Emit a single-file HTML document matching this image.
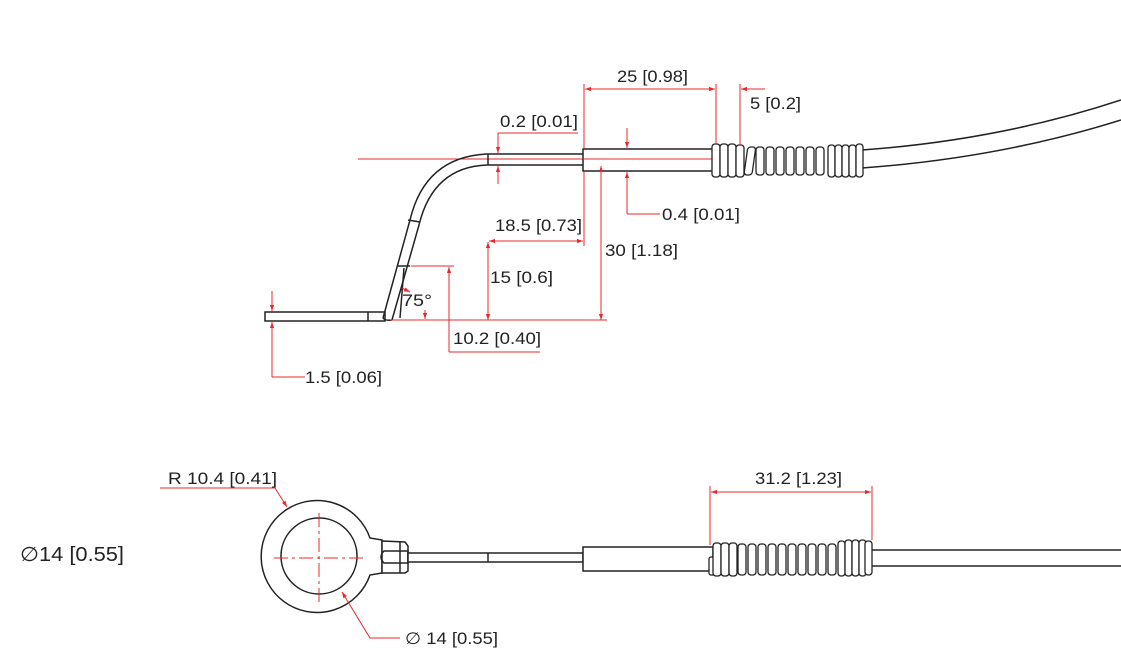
<!DOCTYPE html>
<html><head><meta charset="utf-8"><style>
html,body{margin:0;padding:0;background:#fff;width:1121px;height:663px;overflow:hidden}
svg{display:block}
text{font-family:"Liberation Sans",Arial,sans-serif;font-size:16.5px;fill:#222}
.k{stroke:#222;stroke-width:1.5;fill:none}
.r{stroke:#e8282b;stroke-width:1;fill:none}
.c{stroke:#222;stroke-width:1.3;fill:#fff}
</style></head><body>
<svg width="1121" height="663" viewBox="0 0 1121 663">
<defs>
<marker id="a" viewBox="0 0 10 10" refX="10" refY="5" markerWidth="8" markerHeight="6" orient="auto-start-reverse"><path d="M0,1.5 L10,5 L0,8.5z" fill="#e8282b"/></marker>
</defs>
<!-- TOP VIEW -->
<line class="r" x1="358" y1="159" x2="715" y2="159"/>
<rect class="k" x="265" y="312" width="120" height="9" style="fill:#fff"/>
<line class="k" x1="368" y1="312" x2="368" y2="321"/>
<path class="k" d="M383,318 L410,220 Q425,157 487,154 L583,154"/>
<path class="k" d="M392,320 L419,225 Q433,167 487,165 L583,165"/>
<path class="k" d="M383,318 Q385,321 392,320"/>
<line class="k" x1="488" y1="154" x2="488" y2="165"/>
<line class="k" x1="404" y1="268" x2="400" y2="318"/>
<line class="k" x1="398" y1="266" x2="410" y2="266"/>
<line class="k" x1="408" y1="220" x2="420" y2="222"/>
<rect class="k" x="583" y="149" width="130" height="22" style="fill:#fff"/>
<line class="r" x1="583" y1="159" x2="713" y2="159"/>
<path class="k" d="M862,150 Q1000,140 1121,100"/>
<path class="k" d="M862,168 Q1000,158 1121,120"/>
<g class="c">
<rect x="712" y="144" width="8" height="33" rx="3"/><rect x="720" y="144" width="8" height="33" rx="3"/><rect x="728" y="144" width="8" height="33" rx="3"/><rect x="736" y="145" width="8" height="32" rx="3"/>
<rect x="746" y="147" width="8" height="28" rx="3" transform="skewX(-8)" transform-origin="750 160"/><rect x="756" y="147" width="8" height="28" rx="3"/><rect x="766" y="147" width="8" height="28" rx="3"/><rect x="776" y="147" width="8" height="28" rx="3"/><rect x="786" y="147" width="8" height="28" rx="3"/><rect x="796" y="147" width="8" height="28" rx="3"/><rect x="806" y="147" width="8" height="28" rx="3"/><rect x="816" y="147" width="8" height="28" rx="3"/>
<rect x="828" y="145" width="7" height="32" rx="3"/><rect x="835" y="145" width="7" height="32" rx="3"/><rect x="842" y="145" width="7" height="32" rx="3"/><rect x="849" y="145" width="7" height="32" rx="3"/><rect x="856" y="144" width="7" height="33" rx="3"/>
</g>
<!-- dims top -->
<line class="r" x1="584" y1="84" x2="584" y2="149"/>
<line class="r" x1="716" y1="84" x2="716" y2="144"/>
<line class="r" x1="585" y1="89" x2="715" y2="89" marker-start="url(#a)" marker-end="url(#a)"/>
<text x="617" y="82" textLength="71" lengthAdjust="spacingAndGlyphs">25 [0.98]</text>
<line class="r" x1="740" y1="84" x2="740" y2="145"/>
<line class="r" x1="765" y1="89" x2="741" y2="89" marker-end="url(#a)"/>
<text x="750" y="109" textLength="51" lengthAdjust="spacingAndGlyphs">5 [0.2]</text>
<text x="500" y="127" textLength="78" lengthAdjust="spacingAndGlyphs">0.2 [0.01]</text>
<line class="r" x1="498" y1="133" x2="578" y2="133"/>
<line class="r" x1="498" y1="133" x2="498" y2="153" marker-end="url(#a)"/>
<line class="r" x1="498" y1="184" x2="498" y2="166" marker-end="url(#a)"/>
<line class="r" x1="627" y1="128" x2="627" y2="148" marker-end="url(#a)"/>
<line class="r" x1="627" y1="214" x2="627" y2="172" marker-end="url(#a)"/>
<line class="r" x1="627" y1="214" x2="660" y2="214"/>
<text x="662" y="220" textLength="78" lengthAdjust="spacingAndGlyphs">0.4 [0.01]</text>
<line class="r" x1="584" y1="171" x2="584" y2="246"/>
<line class="r" x1="489" y1="241" x2="583" y2="241" marker-start="url(#a)" marker-end="url(#a)"/>
<text x="495" y="231" textLength="87" lengthAdjust="spacingAndGlyphs">18.5 [0.73]</text>
<line class="r" x1="488" y1="242" x2="488" y2="320" marker-start="url(#a)" marker-end="url(#a)"/>
<text x="490" y="283" textLength="63" lengthAdjust="spacingAndGlyphs">15 [0.6]</text>
<line class="r" x1="601" y1="166" x2="601" y2="320" marker-start="url(#a)" marker-end="url(#a)"/>
<text x="605" y="256" textLength="73" lengthAdjust="spacingAndGlyphs">30 [1.18]</text>
<line class="r" x1="390" y1="320" x2="607" y2="320"/>
<line class="r" x1="411" y1="266" x2="454" y2="266"/>
<line class="r" x1="449" y1="267" x2="449" y2="352" marker-start="url(#a)"/>
<line class="r" x1="449" y1="352" x2="540" y2="352"/>
<text x="453" y="344" textLength="88" lengthAdjust="spacingAndGlyphs">10.2 [0.40]</text>
<text x="402" y="306" textLength="30" lengthAdjust="spacingAndGlyphs">75°</text>
<line class="r" x1="425" y1="310" x2="425" y2="319" marker-end="url(#a)"/>
<line class="r" x1="402" y1="288" x2="410" y2="292" marker-end="url(#a)"/>
<line class="r" x1="272" y1="291" x2="272" y2="311" marker-end="url(#a)"/>
<line class="r" x1="272" y1="377" x2="272" y2="322" marker-end="url(#a)"/>
<line class="r" x1="272" y1="377" x2="305" y2="377"/>
<text x="305" y="383" textLength="77" lengthAdjust="spacingAndGlyphs">1.5 [0.06]</text>
<!-- BOTTOM VIEW -->
<text x="20" y="561" style="font-size:20px" textLength="104" lengthAdjust="spacingAndGlyphs">∅14 [0.55]</text>
<path class="k" d="M370,538 A56,56 0 1 0 370,575 L382,573 L382,540 Z" style="fill:#fff"/>
<circle class="k" cx="319" cy="556" r="38"/>
<line class="r" x1="274" y1="558" x2="366" y2="558" stroke-dasharray="14,4,3,4"/>
<line class="r" x1="319" y1="513" x2="319" y2="605" stroke-dasharray="14,4,3,4"/>
<path class="k" d="M382,541 L405,542 L408,546 L408,571 L405,573 L382,573 Z" style="fill:#fff"/>
<line class="k" x1="400" y1="542" x2="400" y2="573"/>
<path class="k" d="M384,551 Q378,557 384,563 L408,563 L408,551 Z"/>
<rect class="k" x="408" y="553" width="175" height="9" style="fill:#fff"/>
<line class="k" x1="488" y1="553" x2="488" y2="562"/>
<rect class="k" x="583" y="547" width="130" height="24" style="fill:#fff"/>
<line class="k" x1="872" y1="550" x2="1121" y2="550"/>
<line class="k" x1="872" y1="566" x2="1121" y2="566"/>
<g class="c">
<rect x="709" y="557" width="8" height="18" rx="2"/>
<rect x="713" y="543" width="8" height="33" rx="3"/><rect x="721" y="543" width="8" height="33" rx="3"/><rect x="729" y="543" width="8" height="33" rx="3"/>
<rect x="738" y="544" width="8" height="31" rx="3"/><rect x="748" y="544" width="8" height="31" rx="3"/><rect x="758" y="544" width="8" height="31" rx="3"/><rect x="768" y="544" width="8" height="31" rx="3"/><rect x="778" y="544" width="8" height="31" rx="3"/><rect x="788" y="544" width="8" height="31" rx="3"/><rect x="798" y="544" width="8" height="31" rx="3"/><rect x="808" y="544" width="8" height="31" rx="3"/><rect x="818" y="544" width="8" height="31" rx="3"/><rect x="828" y="544" width="8" height="31" rx="3"/>
<rect x="838" y="541" width="7" height="35" rx="3"/><rect x="845" y="540" width="7" height="36" rx="3"/><rect x="852" y="540" width="7" height="36" rx="3"/><rect x="859" y="540" width="7" height="36" rx="3"/><rect x="865" y="541" width="7" height="34" rx="3"/>
</g>
<line class="r" x1="710" y1="486" x2="710" y2="545"/>
<line class="r" x1="872" y1="486" x2="872" y2="540"/>
<line class="r" x1="711" y1="492" x2="871" y2="492" marker-start="url(#a)" marker-end="url(#a)"/>
<text x="755" y="484" textLength="87" lengthAdjust="spacingAndGlyphs">31.2 [1.23]</text>
<text x="168" y="484" textLength="109" lengthAdjust="spacingAndGlyphs">R 10.4 [0.41]</text>
<polyline class="r" points="160,488 275,488 287,507" marker-end="url(#a)"/>
<polyline class="r" points="400,638 370,638 342,592" marker-end="url(#a)"/>
<text x="405" y="644" textLength="93" lengthAdjust="spacingAndGlyphs">∅ 14 [0.55]</text>
</svg>
</body></html>
